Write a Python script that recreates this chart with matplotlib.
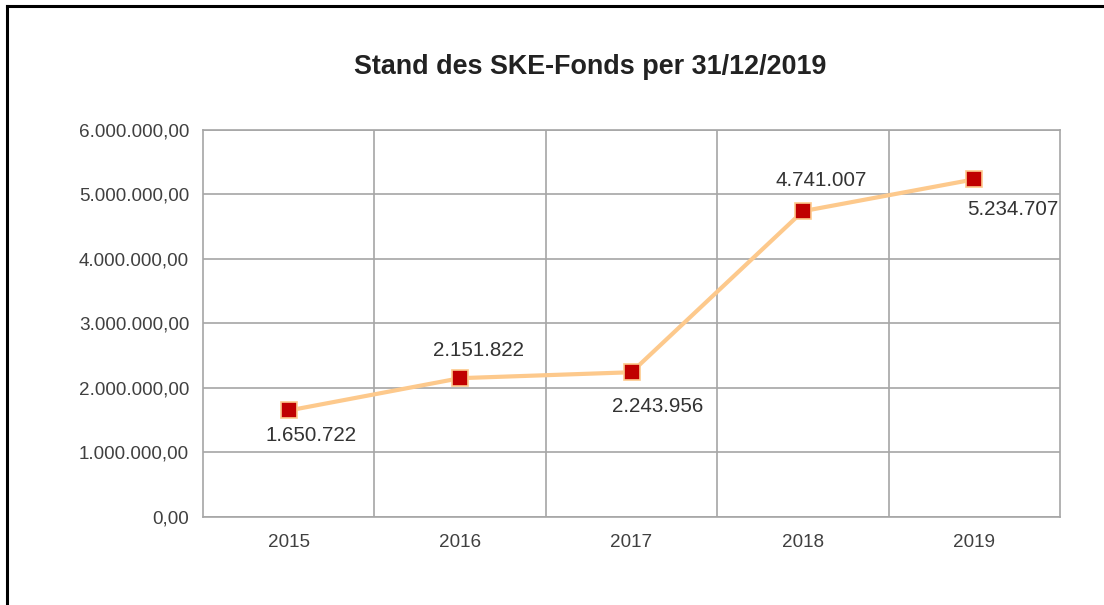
import matplotlib.pyplot as plt
from matplotlib.ticker import FuncFormatter, MultipleLocator
from matplotlib.lines import Line2D

plt.rcParams['font.family'] = ['Liberation Sans', 'DejaVu Sans']

# data
years = ["2015", "2016", "2017", "2018", "2019"]
values = [1650722, 2151822, 2243956, 4741007, 5234707]
title = "Stand des SKE-Fonds per 31/12/2019"

# label offsets in points (dx, dy)
label_offsets = [(16, -18), (13, 20), (19, -25), (13, 22), (28, -22)]


def de_num(v, decimals=0):
    s = f"{v:,.{decimals}f}"
    return s.replace(",", "X").replace(".", ",").replace("X", ".")


fig = plt.figure(figsize=(11.04, 6.05), dpi=100)
ax = fig.add_axes([0.1839, 0.1455, 0.7763, 0.6397])

x = list(range(len(years)))
ax.plot(x, values, color="#fdc98c", lw=3, marker="s", markersize=12,
        markerfacecolor="#c00000", markeredgecolor="#fdc98c",
        markeredgewidth=1.2, zorder=3)

for xi, v, (dx, dy) in zip(x, values, label_offsets):
    ax.annotate(de_num(v), (xi, v), xytext=(dx, dy), textcoords="offset points",
                ha="center", va="center", fontsize=14.8, color="#333333")

ax.set_xlim(-0.5, len(years) - 0.5)
ax.set_ylim(0, 6000000)
ax.set_xticks(x)
ax.set_xticklabels(years)
ax.yaxis.set_major_locator(MultipleLocator(1000000))
ax.yaxis.set_major_formatter(FuncFormatter(lambda v, p: de_num(v, 2)))

# grid: horizontal at ticks, vertical between categories
ax.grid(axis="y", color="#a6a6a6", lw=1.2)
for b in [i + 0.5 for i in x[:-1]]:
    ax.axvline(b, color="#a6a6a6", lw=1.2, zorder=1)
ax.set_axisbelow(True)

for s in ax.spines.values():
    s.set_color("#a6a6a6")
    s.set_linewidth(1.2)
ax.tick_params(length=0, labelsize=13.6, colors="#404040", pad=10)
ax.tick_params(axis="x", pad=12)

fig.text(0.535, 0.889, title, ha="center", va="center", fontsize=19.4,
         color="#222222", fontweight="bold")

# black border (left and top)
fig.add_artist(Line2D([0.0065, 0.0065], [0, 0.99], color="black", lw=2.2,
                      transform=fig.transFigure))
fig.add_artist(Line2D([0.0065, 1.0], [0.99, 0.99], color="black", lw=2.2,
                      transform=fig.transFigure))

fig.savefig("out.png", dpi=100)
